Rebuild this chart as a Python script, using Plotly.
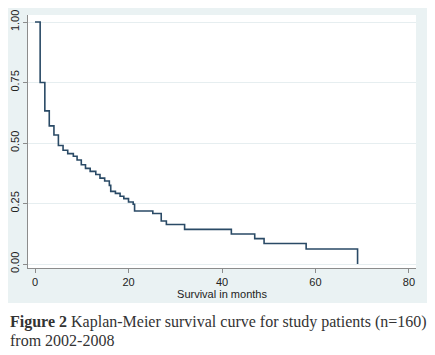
import plotly.graph_objects as go

# Kaplan-Meier step points
months = [0, 1.1, 2.1, 3.05, 4.05, 5.0, 6.0, 7.0, 8.2, 9.0, 9.9, 10.8, 11.8, 13.0, 13.9,
          14.9, 15.9, 16.2, 17.2, 18.2, 19.0, 20.0, 21.0, 21.3, 25.2, 27.0, 28.1, 32.0,
          42.0, 47.0, 49.0, 58.0, 69.0]
survival = [1.0, 0.75, 0.633, 0.571, 0.533, 0.49, 0.47, 0.456, 0.445, 0.43, 0.41, 0.395,
            0.383, 0.37, 0.355, 0.343, 0.325, 0.30, 0.292, 0.28, 0.27, 0.256, 0.247, 0.219,
            0.209, 0.178, 0.163, 0.143, 0.124, 0.105, 0.085, 0.062, 0.0]

x_ticks = [0, 20, 40, 60, 80]
y_ticks = [0.0, 0.25, 0.5, 0.75, 1.0]
y_tick_labels = ["0.00", "0.25", "0.50", "0.75", "1.00"]

fig = go.Figure()
fig.add_trace(go.Scatter(x=months, y=survival, mode="lines", line_shape="hv",
                         line=dict(color="#2a4a66", width=1.6), showlegend=False,
                         hoverinfo="skip"))

# the page body adds an 8px margin, so the figure is drawn 8px smaller/offset
OFF = 8
W, H = 435 - OFF, 355 - OFF
L, T = 28 - OFF, 15 - OFF
R = W - (416 - OFF)
B = H - (268 - OFF)
pw, ph = W - L - R, H - T - B

def px_x(p):
    return (p - OFF - L) / pw

def px_y(p):
    return (H - B - (p - OFF)) / ph

panel = "#eaf2f3"
fig.update_layout(
    width=W, height=H,
    margin=dict(l=L, r=R, t=T, b=B, autoexpand=False),
    paper_bgcolor="white", plot_bgcolor="white",
    font=dict(family="Liberation Sans, Arial", size=11, color="#222"),
    shapes=[
        dict(type="rect", xref="paper", yref="paper", x0=px_x(6), x1=px_x(427),
             y0=px_y(303), y1=px_y(7), fillcolor=panel, line=dict(width=0), layer="below"),
        dict(type="rect", xref="paper", yref="paper", x0=0, x1=1, y0=0, y1=1,
             fillcolor="white", line=dict(width=0), layer="below"),
    ],
    xaxis=dict(range=[-1.5, 81.5], tickvals=x_ticks, ticks="outside", ticklen=4,
               tickcolor="#8c8c8c", showline=True, linecolor="#8c8c8c", linewidth=1,
               showgrid=False, zeroline=False, automargin=False,
               title=dict(text="Survival in months", font=dict(size=11), standoff=0),
               tickfont=dict(size=11)),
    yaxis=dict(range=[-0.0165, 1.029], tickvals=y_ticks, ticktext=y_tick_labels,
               tickangle=-90, ticks="outside", ticklen=4, tickcolor="#8c8c8c",
               showline=True, linecolor="#8c8c8c", linewidth=1, automargin=False,
               showgrid=True, gridcolor="#e6eef0", gridwidth=1, zeroline=False,
               tickfont=dict(size=11)),
    annotations=[
        dict(xref="paper", yref="paper", x=px_x(8), y=px_y(322), xanchor="left",
             yanchor="middle", showarrow=False,
             text="<b>Figure 2</b> Kaplan-Meier survival curve for study patients (n=160)",
             font=dict(family="Liberation Serif, Times New Roman", size=16, color="#333")),
        dict(xref="paper", yref="paper", x=px_x(8), y=px_y(340), xanchor="left",
             yanchor="middle", showarrow=False, text="from 2002-2008",
             font=dict(family="Liberation Serif, Times New Roman", size=16, color="#333")),
    ],
)

fig.write_html("out.html")
